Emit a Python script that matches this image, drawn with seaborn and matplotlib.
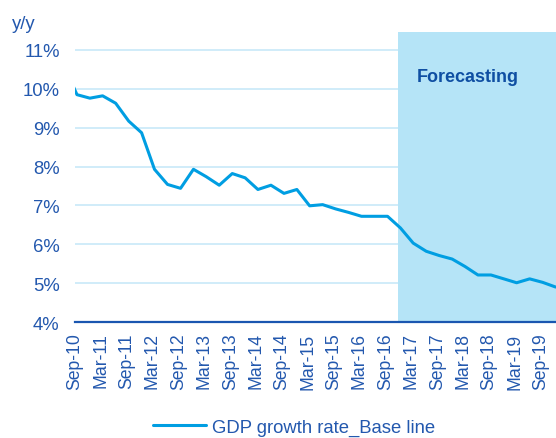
import numpy as np
import pandas as pd
import matplotlib
matplotlib.use("Agg")
import matplotlib.pyplot as plt
import matplotlib.dates as mdates
import seaborn as sns

# quarterly GDP growth (y/y, %), first value is Jun-10 (clipped at the axis edge)
gdp_growth = [10.6, 9.85, 9.76, 9.82, 9.63, 9.17, 8.87, 7.93, 7.54, 7.44,
              7.93, 7.74, 7.52, 7.82, 7.71, 7.41, 7.52, 7.31, 7.41, 6.99,
              7.02, 6.91, 6.82, 6.72, 6.72, 6.72, 6.42, 6.03, 5.82, 5.71,
              5.62, 5.43, 5.21, 5.21, 5.11, 5.01, 5.11, 5.02, 4.90]
quarters = pd.date_range("2010-06-01", periods=len(gdp_growth), freq="QS-MAR") + pd.Timedelta(days=14)
series_name = "GDP growth rate_Base line"
forecast_start = pd.Timestamp("2016-12-01")
y_ticks = [4, 5, 6, 7, 8, 9, 10, 11]

df = pd.DataFrame({"date": quarters, "growth": gdp_growth})

text_blue = "#2358ae"
axis_blue = "#1a56b0"
line_blue = "#009ee2"
shade_blue = "#b5e4f7"
grid_blue = "#c8e9f8"

sns.set_style("white")
plt.rcParams["font.family"] = ["Liberation Sans", "DejaVu Sans"]

fig = plt.figure(figsize=(5.56, 4.39), dpi=100)
ax = fig.add_axes([75 / 556, 1 - 323 / 439, (556 - 75) / 556, (323 - 33) / 439])

x_left = pd.Timestamp("2010-09-01")
x_right = pd.Timestamp("2019-12-18")

ax.axvspan(forecast_start, x_right, color=shade_blue, lw=0, zorder=1)
sns.lineplot(data=df, x="date", y="growth", ax=ax, color=line_blue, lw=2.2,
             label=series_name, zorder=3, legend=False)

ax.set_xlim(x_left, x_right)
ax.set_ylim(4, 4 + 290 / 38.86)
ax.set_yticks(y_ticks)
ax.set_yticklabels([f"{v}%" for v in y_ticks])
ax.set_axisbelow(True)
ax.yaxis.grid(True, color=grid_blue, lw=1.2)
ax.xaxis.grid(False)

ax.xaxis.set_major_locator(mdates.MonthLocator(bymonth=[3, 9]))
ax.xaxis.set_major_formatter(mdates.DateFormatter("%b-%y"))

for side in ["left", "top", "right"]:
    ax.spines[side].set_visible(False)
ax.spines["bottom"].set_color(axis_blue)
ax.spines["bottom"].set_linewidth(1.6)
ax.spines["bottom"].set_zorder(4)

ax.tick_params(axis="y", length=0, pad=11, labelsize=13.3, labelcolor=text_blue)
ax.tick_params(axis="x", direction="out", length=3.5, width=1.5, color=axis_blue,
               pad=4, labelsize=12.7, labelcolor=text_blue, labelrotation=90)
ax.set_xlabel("")
ax.set_ylabel("")

fig.text(12 / 556, 1 - 29 / 439, "y/y", fontsize=13.3, color=text_blue, va="baseline")
ax.text(0.711, 0.831, "Forecasting", transform=ax.transAxes, fontsize=13,
        fontweight="bold", color="#0f4fa3", va="baseline", ha="left")

handles, labels = ax.get_legend_handles_labels()
fig.legend(handles, labels, loc="center", bbox_to_anchor=(294 / 556, 0.025),
           frameon=False, fontsize=13.3, handlelength=2.85, handletextpad=0.3,
           borderpad=0, labelcolor=text_blue)

fig.savefig("out.png", dpi=100)
